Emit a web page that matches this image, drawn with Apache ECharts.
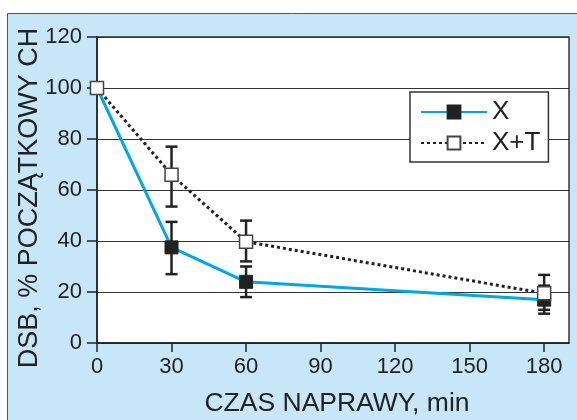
<!DOCTYPE html>
<html>
<head>
<meta charset="utf-8">
<script src="https://cdn.jsdelivr.net/npm/echarts@6/dist/echarts.min.js"></script>
<style>
html,body{margin:0;padding:0;background:#fff;}
#c{width:577px;height:420px;}
</style>
</head>
<body>
<div id="c"></div>
<script>
// ---- data ----
const times = [0, 30, 60, 180];
const xTicks = [0, 30, 60, 90, 120, 150, 180];
const seriesX = [100, 37.5, 24, 17];
const seriesXLow = [null, 27, 18, 11.5];
const seriesXHigh = [null, 47.5, 30, 22.5];
const seriesXT = [100, 66, 39.7, 19.5];
const seriesXTLow = [null, 53.5, 32, 13];
const seriesXTHigh = [null, 77, 48, 26.7];
const yTitle = 'DSB, % POCZĄTKOWY CH';
const xTitle = 'CZAS NAPRAWY, min';

const FONT = '"Liberation Sans", Arial, sans-serif';
const TXT = '#222';

function pairs(vals) { return times.map((t, i) => [t, vals[i]]); }
function errData(lo, hi) {
  const out = [];
  times.forEach((t, i) => { if (lo[i] != null) out.push([t, lo[i], hi[i]]); });
  return out;
}
function errRender(params, api) {
  const x = api.value(0);
  const p1 = api.coord([x, api.value(1)]);
  const p2 = api.coord([x, api.value(2)]);
  const hw = 6;
  const st = { stroke: '#222', lineWidth: 2.5 };
  return {
    type: 'group',
    children: [
      { type: 'line', shape: { x1: p1[0], y1: p1[1], x2: p2[0], y2: p2[1] }, style: st },
      { type: 'line', shape: { x1: p1[0] - hw, y1: p1[1], x2: p1[0] + hw, y2: p1[1] }, style: st },
      { type: 'line', shape: { x1: p2[0] - hw, y1: p2[1], x2: p2[0] + hw, y2: p2[1] }, style: st }
    ]
  };
}

const chart = echarts.init(document.getElementById('c'), null, { renderer: 'canvas' });
chart.setOption({
  animation: false,
  backgroundColor: '#fff',
  textStyle: { fontFamily: FONT, color: TXT },
  graphic: [{
    type: 'rect', z: -10,
    shape: { x: 7.5, y: 13.5, width: 620, height: 460 },
    style: { fill: '#c7e7f8', stroke: '#555', lineWidth: 1 }
  }],
  grid: {
    left: 97, top: 37, right: 8, bottom: 77,
    outerBoundsMode: 'none', containLabel: false,
    show: true, backgroundColor: '#fff', borderColor: '#333', borderWidth: 1.5
  },
  legend: {
    data: ['X', 'X+T'],
    orient: 'vertical',
    left: 410, top: 92,
    itemWidth: 66, itemHeight: 16, itemGap: 5,
    padding: [7, 8, 6, 10],
    backgroundColor: '#fff', borderColor: '#333', borderWidth: 1.5,
    textStyle: { fontFamily: FONT, fontSize: 26, color: TXT },
    selectedMode: false
  },
  xAxis: {
    type: 'value', min: 0, max: 190, interval: 30,
    name: xTitle, nameLocation: 'middle', nameGap: 47,
    nameTextStyle: { fontFamily: FONT, fontSize: 26.5, color: TXT, padding: [0, 0, 0, 8] },
    axisLine: { lineStyle: { color: '#222', width: 1.5 } },
    axisTick: { show: true, length: 9, lineStyle: { color: '#222', width: 1.5 }, customValues: xTicks },
    axisLabel: { fontFamily: FONT, fontSize: 22, color: TXT, margin: 13, customValues: xTicks },
    splitLine: { show: false }
  },
  yAxis: {
    type: 'value', min: 0, max: 120, interval: 20,
    name: yTitle, nameLocation: 'middle', nameGap: 54, nameMoveOverlap: false,
    nameTextStyle: { fontFamily: FONT, fontSize: 27, color: TXT, padding: [0, 16, 0, 0] },
    axisLine: { show: true, lineStyle: { color: '#222', width: 1.5 } },
    axisTick: { show: true, length: 10, lineStyle: { color: '#222', width: 1.5 } },
    axisLabel: { fontFamily: FONT, fontSize: 22, color: TXT, margin: 15 },
    splitLine: { show: true, lineStyle: { color: '#333', width: 1 } }
  },
  series: [
    {
      type: 'custom', name: 'errX', renderItem: errRender, z: 1,
      data: errData(seriesXLow, seriesXHigh), silent: true
    },
    {
      type: 'custom', name: 'errXT', renderItem: errRender, z: 1,
      data: errData(seriesXTLow, seriesXTHigh), silent: true
    },
    {
      type: 'line', name: 'X', z: 3,
      data: pairs(seriesX),
      lineStyle: { color: '#00a6e6', width: 3 },
      itemStyle: { color: '#222', borderColor: '#222', borderWidth: 1 },
      symbol: 'rect', symbolSize: 13, showAllSymbol: true
    },
    {
      type: 'line', name: 'X+T', z: 4,
      data: pairs(seriesXT),
      lineStyle: { color: '#222', width: 3, type: [3, 3] },
      itemStyle: { color: '#fff', borderColor: '#444', borderWidth: 1.5 },
      symbol: 'rect', symbolSize: 13, showAllSymbol: true
    }
  ]
});
</script>
</body>
</html>
